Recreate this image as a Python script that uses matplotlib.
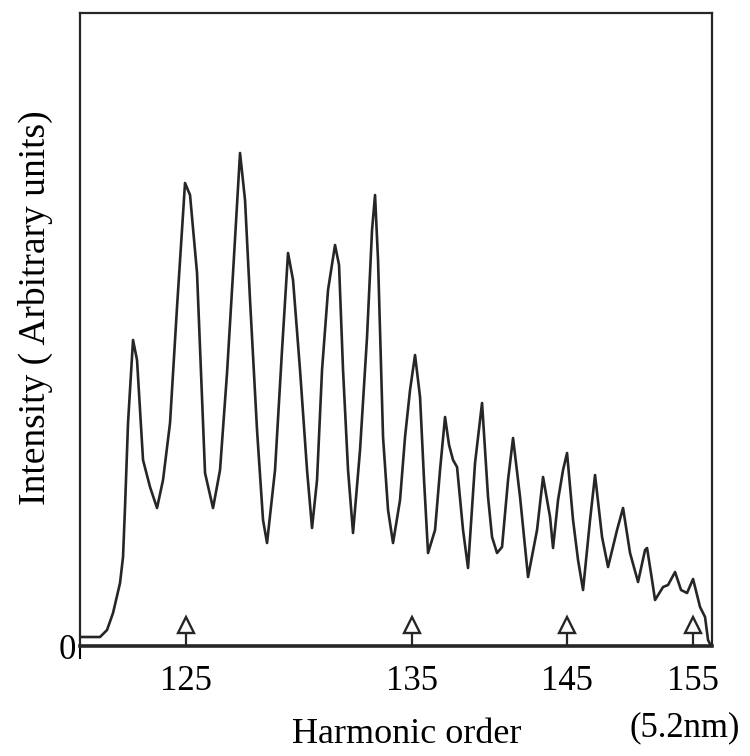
import matplotlib
matplotlib.use('Agg')
import matplotlib.pyplot as plt

# spectrum trace: detector position (arb.) vs intensity (arb.)
position = [0, 20, 27, 33, 40, 43, 45, 48, 53, 57, 63, 70, 77, 83, 90, 97, 105, 110,
            117, 125, 133, 140, 147, 153, 160, 165, 170, 177, 183, 187, 195, 202, 208,
            213, 220, 227, 232, 237, 242, 248, 255, 259, 263, 268, 273, 280, 287, 292,
            295, 298, 303, 308, 313, 320, 325, 330, 335, 340, 344, 348, 355, 360, 365,
            369, 373, 377, 383, 388, 395, 402, 408, 412, 417, 422, 428, 433, 440, 448,
            457, 463, 470, 473, 478, 483, 487, 493, 498, 503, 510, 515, 522, 528, 537,
            543, 550, 558, 565, 567, 572, 575, 583, 588, 595, 601, 607, 613, 620, 625,
            628, 631]
intensity = [9, 9, 16, 33, 63, 89, 139, 223, 306, 286, 186, 159, 138, 166, 223, 339, 463, 451,
             373, 173, 138, 176, 273, 373, 493, 446, 346, 216, 126, 103, 176, 296, 393,
             366, 276, 176, 118, 166, 276, 356, 401, 381, 276, 176, 113, 196, 309, 416,
             451, 386, 209, 136, 103, 146, 209, 256, 291, 249, 166, 93, 116, 176, 229,
             201, 186, 179, 116, 78, 183, 243, 149, 109, 93, 99, 166, 208, 149, 69,
             116, 169, 129, 98, 146, 176, 193, 126, 86, 56, 126, 171, 109, 79, 116,
             138, 93, 64, 96, 98, 66, 46, 59, 61, 74, 56, 53, 67, 39, 29,
             6, 0]

# marked harmonic orders
harmonic_pos = [106, 332, 487, 613]
harmonic_labels = ['125', '135', '145', '155']

plt.rcParams['font.family'] = ['Liberation Serif', 'DejaVu Serif']

fig = plt.figure(figsize=(7.5, 7.56), dpi=100)
ax = fig.add_axes([0.1067, 0.1455, 0.8427, 0.8373])

ax.plot(position, intensity, color='#262626', lw=1.9,
        solid_joinstyle='round', solid_capstyle='round')

# arrows marking the harmonic orders
ax.vlines(harmonic_pos, 0, 13, color='#262626', lw=1.6)
ax.plot(harmonic_pos, [21] * len(harmonic_pos), linestyle='none', marker='^',
        markersize=11, markerfacecolor='white', markeredgecolor='#262626',
        markeredgewidth=1.7)

ax.set_xlim(0, 632)
ax.set_ylim(0, 633)

ax.set_xticks(harmonic_pos)
ax.set_xticklabels(harmonic_labels)
ax.set_xticks([0], minor=True)
ax.tick_params(axis='x', which='major', length=0, pad=14, labelsize=25)
ax.tick_params(axis='x', which='minor', direction='out', length=9, width=1.5)
ax.set_yticks([0])
ax.tick_params(axis='y', length=0, pad=3, labelsize=25)

for s in ['top', 'right', 'left']:
    ax.spines[s].set_linewidth(1.6)
    ax.spines[s].set_color('#262626')
ax.spines['bottom'].set_linewidth(2.6)
ax.spines['bottom'].set_color('#262626')

ax.set_xlabel('Harmonic order', fontsize=26)
ax.xaxis.set_label_coords(0.517, -0.113)
ax.set_ylabel('Intensity ( Arbitrary units)', fontsize=27, va='center')
ax.yaxis.set_label_coords(-0.07, 0.534)
ax.text(0.956, -0.13, '(5.2nm)', transform=ax.transAxes, fontsize=25,
        ha='center', va='center')

fig.savefig('out.png', dpi=100)
